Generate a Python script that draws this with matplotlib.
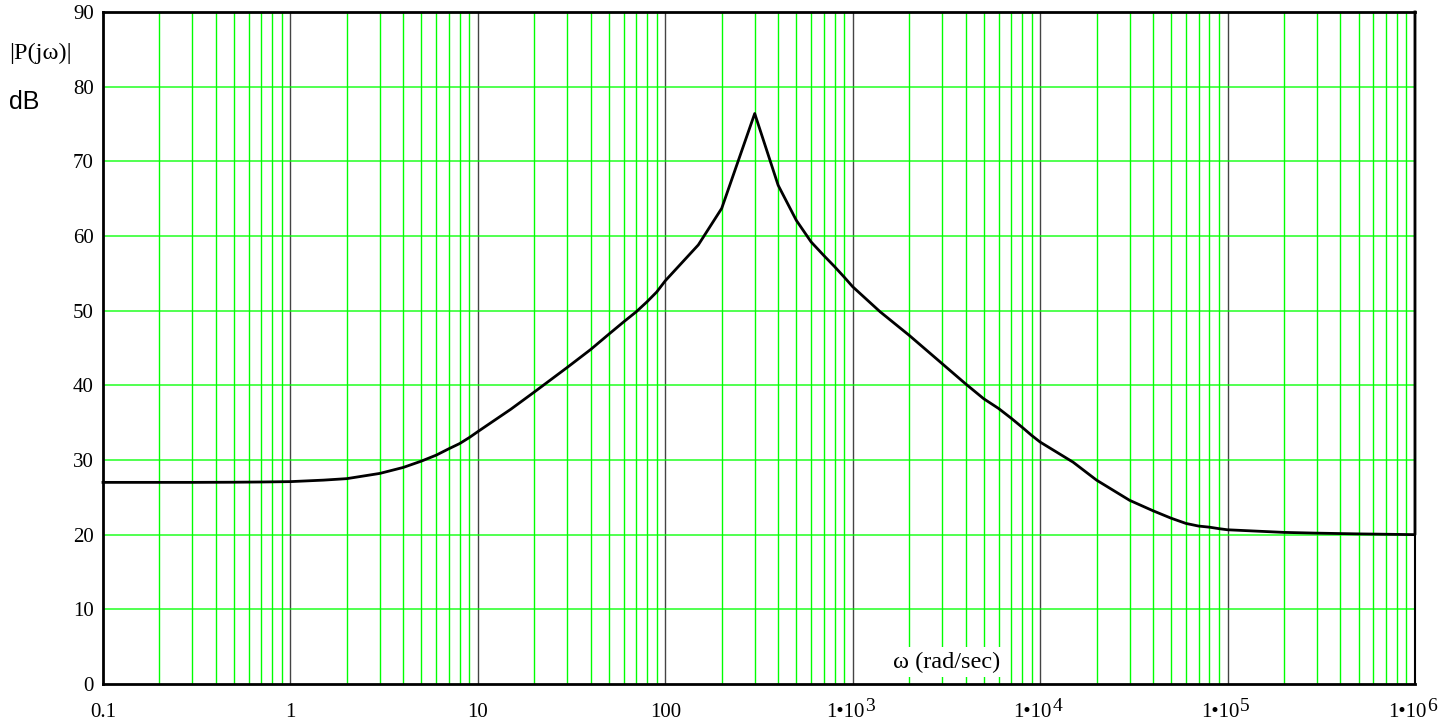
import numpy as np
import matplotlib.pyplot as plt
from matplotlib.ticker import FixedLocator, NullFormatter

# ---------- data ----------
omega = [0.1, 0.2, 0.3, 0.5, 0.7, 1, 1.5, 2, 3, 4, 5, 6, 7, 8, 9,
         10, 15, 20, 30, 40, 50, 60, 70, 80, 90,
         100, 150, 200, 300, 400, 500, 600, 700, 800, 900,
         1e3, 1.4e3, 2e3, 3e3, 4e3, 5e3, 6e3, 7e3, 8e3, 9e3,
         1e4, 1.5e4, 2e4, 3e4, 4e4, 5e4, 6e4, 7e4, 8e4, 9e4,
         1e5, 2e5, 3e5, 5e5, 1e6, 1e6]
mag_db = [27.0, 27.0, 27.0, 27.02, 27.05, 27.1, 27.3, 27.5, 28.2, 29.0, 29.85, 30.65, 31.5, 32.2, 33.0,
          33.8, 36.8, 39.1, 42.4, 44.8, 46.85, 48.5, 49.85, 51.2, 52.5,
          54.0, 58.8, 63.7, 76.4, 66.8, 62.1, 59.2, 57.4, 55.9, 54.5,
          53.2, 49.85, 46.7, 42.9, 40.2, 38.2, 36.9, 35.6, 34.4, 33.3,
          32.4, 29.7, 27.3, 24.6, 23.2, 22.2, 21.5, 21.15, 21.0, 20.8,
          20.65, 20.3, 20.2, 20.1, 20.0, 90.0]

x_ticks = [0.1, 1, 10, 100, 1e3, 1e4, 1e5, 1e6]
x_plain = ["0.1", "1", "10", "100"]
x_exp = ["3", "4", "5", "6"]
y_ticks = list(range(0, 91, 10))

GREEN = "#00ff00"
serif = "Liberation Serif"
TICK_FS = 15

fig = plt.figure(figsize=(14.55, 7.26), dpi=100)
ax = fig.add_axes([0.0708, 0.0579, 0.9017, 0.9256])

ax.set_xscale("log")
ax.set_xlim(0.1, 1e6)
ax.set_ylim(0, 90)

# grid: green minor verticals, dark decade lines, green horizontals
minor = [m * 10.0 ** e for e in range(-1, 6) for m in range(2, 10)]
ax.xaxis.set_minor_locator(FixedLocator(minor))
ax.xaxis.set_minor_formatter(NullFormatter())
ax.xaxis.set_major_locator(FixedLocator(x_ticks))
for xm in minor:
    ax.axvline(xm, color=GREEN, lw=1.0, zorder=1)
for xd in x_ticks[1:-1]:
    ax.axvline(xd, color="#444444", lw=1.0, zorder=1)
for yv in y_ticks[1:-1]:
    ax.axhline(yv, color=GREEN, lw=1.2, alpha=0.8, zorder=1)

ax.plot(omega, mag_db, color="black", lw=2.0, zorder=3, clip_on=False)

# x tick labels drawn by hand so the exponent stays near full size
ax.set_xticks(x_ticks)
ax.set_xticklabels([])
for xv, lab in zip(x_ticks[:4], x_plain):
    ax.annotate(lab, xy=(xv, 0), xycoords=("data", "axes fraction"),
                xytext=(0, -23.8), textcoords="offset points",
                ha="center", va="baseline", fontfamily=serif, fontsize=TICK_FS)
for xv, ex in zip(x_ticks[4:], x_exp):
    ax.annotate("1•10", xy=(xv, 0), xycoords=("data", "axes fraction"),
                xytext=(8.4, -23.8), textcoords="offset points",
                ha="right", va="baseline", fontfamily=serif, fontsize=TICK_FS)
    ax.annotate(ex, xy=(xv, 0), xycoords=("data", "axes fraction"),
                xytext=(8.8, -19.5), textcoords="offset points",
                ha="left", va="baseline", fontfamily=serif, fontsize=TICK_FS - 1)

ax.set_yticks(y_ticks)
ax.set_yticklabels([str(v) for v in y_ticks], fontfamily=serif, fontsize=TICK_FS)
ax.tick_params(axis="both", which="both", length=0)
ax.tick_params(axis="y", pad=6.5)

for side in ["left", "bottom", "top"]:
    ax.spines[side].set_linewidth(2.0)
ax.spines["right"].set_linewidth(1.5)

# axis titles
fig.text(0.006, 0.927, "|P(jω)|", fontfamily=serif, fontsize=17.5, va="center", ha="left")
fig.text(0.006, 0.8595, "dB", fontfamily="Liberation Sans", fontsize=18, va="center", ha="left")
fig.text(947 / 1455, 1 - 662 / 726, "ω (rad/sec)", fontfamily=serif, fontsize=17.5,
         ha="center", va="center", zorder=4,
         bbox=dict(facecolor="white", edgecolor="none", pad=3))

plt.savefig("out.png", dpi=100)
plt.close()
